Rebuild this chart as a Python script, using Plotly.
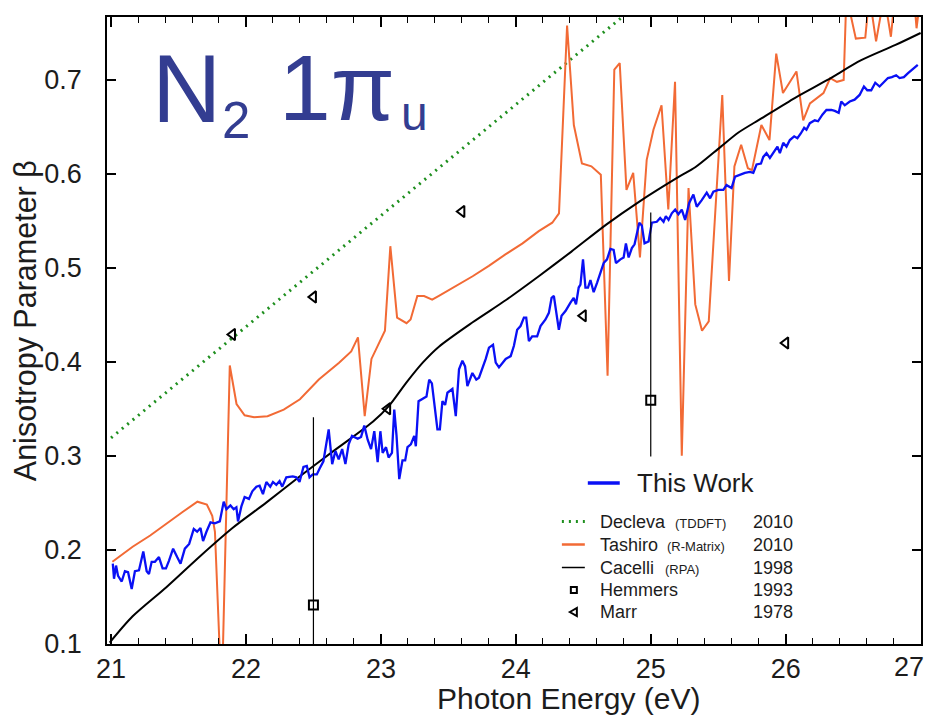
import plotly.graph_objects as go

# ---- N2 1πu photoelectron anisotropy parameter vs photon energy ----

# This work (measured)
this_work_energy = [
    21.013, 21.022, 21.037, 21.052, 21.079, 21.103, 21.126, 21.153, 21.177, 21.207,
    21.239, 21.264, 21.281, 21.301, 21.325, 21.355, 21.382, 21.407, 21.429, 21.460,
    21.490, 21.515, 21.547, 21.579, 21.613, 21.638, 21.663, 21.682, 21.707, 21.737,
    21.769, 21.806, 21.835, 21.855, 21.885, 21.909, 21.929, 21.941, 21.966, 21.990,
    22.022, 22.047, 22.077, 22.101, 22.126, 22.151, 22.180, 22.200, 22.225, 22.249,
    22.269, 22.299, 22.347, 22.373, 22.397, 22.426, 22.451, 22.471, 22.495, 22.525,
    22.545, 22.574, 22.613, 22.639, 22.663, 22.687, 22.713, 22.737, 22.761, 22.786,
    22.828, 22.853, 22.877, 22.902, 22.927, 22.951, 22.976, 22.996, 23.013, 23.038,
    23.057, 23.082, 23.099, 23.116, 23.136, 23.160, 23.180, 23.197, 23.222, 23.247,
    23.259, 23.279, 23.338, 23.358, 23.378, 23.419, 23.437, 23.456, 23.476, 23.493,
    23.530, 23.555, 23.579, 23.604, 23.624, 23.641, 23.678, 23.707, 23.727, 23.752,
    23.777, 23.801, 23.831, 23.851, 23.875, 23.925, 23.962, 23.986, 24.010, 24.035,
    24.060, 24.077, 24.097, 24.121, 24.158, 24.183, 24.220, 24.245, 24.265, 24.282,
    24.319, 24.339, 24.368, 24.405, 24.429, 24.446, 24.466, 24.479, 24.498, 24.516,
    24.535, 24.553, 24.577, 24.602, 24.627, 24.651, 24.676, 24.701, 24.725, 24.742,
    24.775, 24.799, 24.816, 24.836, 24.860, 24.880, 24.915, 24.934, 24.954, 24.984,
    25.008, 25.045, 25.070, 25.095, 25.112, 25.132, 25.156, 25.181, 25.205, 25.230,
    25.255, 25.285, 25.316, 25.341, 25.378, 25.415, 25.440, 25.464, 25.501, 25.538,
    25.562, 25.599, 25.625, 25.661, 25.698, 25.735, 25.760, 25.784, 25.817, 25.834,
    25.858, 25.883, 25.908, 25.939, 25.957, 25.982, 26.006, 26.031, 26.063, 26.087,
    26.112, 26.137, 26.154, 26.179, 26.216, 26.240, 26.272, 26.302, 26.339, 26.364,
    26.393, 26.412, 26.438, 26.475, 26.511, 26.548, 26.580, 26.605, 26.634, 26.664,
    26.696, 26.728, 26.758, 26.787, 26.819, 26.844, 26.876, 26.905, 26.942, 26.979,
]
this_work_beta = [
    0.185, 0.169, 0.183, 0.172, 0.166, 0.177, 0.176, 0.158, 0.177, 0.178,
    0.198, 0.177, 0.174, 0.187, 0.187, 0.192, 0.180, 0.180, 0.188, 0.201,
    0.192, 0.185, 0.201, 0.206, 0.222, 0.219, 0.223, 0.209, 0.219, 0.229,
    0.228, 0.230, 0.251, 0.243, 0.247, 0.243, 0.245, 0.230, 0.246, 0.256,
    0.254, 0.262, 0.267, 0.268, 0.259, 0.272, 0.267, 0.272, 0.269, 0.273,
    0.267, 0.277, 0.278, 0.277, 0.272, 0.288, 0.289, 0.277, 0.280, 0.280,
    0.286, 0.294, 0.328, 0.291, 0.305, 0.296, 0.307, 0.291, 0.312, 0.321,
    0.318, 0.320, 0.332, 0.317, 0.307, 0.326, 0.293, 0.326, 0.303, 0.309,
    0.298, 0.303, 0.349, 0.321, 0.275, 0.295, 0.295, 0.309, 0.312, 0.321,
    0.310, 0.358, 0.363, 0.381, 0.377, 0.328, 0.328, 0.358, 0.354, 0.367,
    0.371, 0.342, 0.392, 0.401, 0.395, 0.374, 0.388, 0.381, 0.383, 0.392,
    0.403, 0.415, 0.418, 0.399, 0.394, 0.403, 0.406, 0.417, 0.434, 0.438,
    0.447, 0.447, 0.422, 0.427, 0.427, 0.438, 0.445, 0.452, 0.468, 0.470,
    0.434, 0.449, 0.454, 0.463, 0.468, 0.461, 0.479, 0.482, 0.509, 0.479,
    0.479, 0.487, 0.474, 0.484, 0.495, 0.505, 0.509, 0.520, 0.519, 0.505,
    0.509, 0.511, 0.526, 0.511, 0.521, 0.525, 0.548, 0.545, 0.526, 0.528,
    0.548, 0.549, 0.553, 0.549, 0.555, 0.551, 0.558, 0.562, 0.557, 0.562,
    0.551, 0.569, 0.578, 0.565, 0.572, 0.580, 0.574, 0.581, 0.583, 0.583,
    0.588, 0.585, 0.597, 0.599, 0.601, 0.602, 0.601, 0.610, 0.611, 0.618,
    0.622, 0.617, 0.622, 0.629, 0.622, 0.633, 0.629, 0.636, 0.640, 0.638,
    0.643, 0.649, 0.647, 0.654, 0.657, 0.656, 0.663, 0.668, 0.668, 0.667,
    0.665, 0.677, 0.673, 0.677, 0.679, 0.684, 0.693, 0.689, 0.689, 0.697,
    0.693, 0.698, 0.702, 0.703, 0.705, 0.702, 0.703, 0.707, 0.711, 0.716,
]

# Decleva (TDDFT) 2010
decleva_energy = [21.0, 22.0, 23.0, 24.0, 25.0]
decleva_beta = [0.319, 0.437, 0.556, 0.674, 0.792]

# Tashiro (R-Matrix) 2010
tashiro_energy = [
    21.01, 21.16, 21.29, 21.41, 21.53, 21.64, 21.71, 21.75, 21.77, 21.82,
    21.88, 21.93, 21.99, 22.06, 22.16, 22.28, 22.40, 22.54, 22.69, 22.78,
    22.83, 22.88, 22.93, 23.03, 23.07, 23.12, 23.19, 23.22, 23.27, 23.32,
    23.38, 23.43, 23.55, 23.68, 23.80, 23.92, 24.05, 24.17, 24.27, 24.32,
    24.38, 24.43, 24.49, 24.56, 24.63, 24.68, 24.73, 24.77, 24.82, 24.87,
    24.92, 24.97, 25.02, 25.08, 25.13, 25.18, 25.23, 25.28, 25.33, 25.38,
    25.43, 25.53, 25.58, 25.62, 25.67, 25.72, 25.75, 25.82, 25.88, 25.93,
    25.98, 26.08, 26.13, 26.18, 26.28, 26.33, 26.38, 26.43, 26.45, 26.52,
    26.59, 26.62, 26.67, 26.73, 26.78, 26.81, 26.95, 26.97, 27.00,
]
tashiro_beta = [
    0.187, 0.203, 0.215, 0.228, 0.240, 0.251, 0.248, 0.236, 0.219, 0.040,
    0.396, 0.355, 0.343, 0.341, 0.342, 0.349, 0.360, 0.381, 0.399, 0.411,
    0.426, 0.342, 0.403, 0.433, 0.523, 0.447, 0.441, 0.445, 0.470, 0.470,
    0.466, 0.470, 0.480, 0.491, 0.502, 0.514, 0.526, 0.539, 0.548, 0.558,
    0.758, 0.652, 0.611, 0.608, 0.599, 0.385, 0.711, 0.718, 0.583, 0.601,
    0.511, 0.615, 0.647, 0.673, 0.562, 0.698, 0.300, 0.585, 0.461, 0.433,
    0.443, 0.684, 0.486, 0.608, 0.631, 0.606, 0.604, 0.652, 0.636, 0.728,
    0.686, 0.709, 0.657, 0.675, 0.686, 0.702, 0.698, 0.700, 0.790, 0.744,
    0.745, 0.790, 0.741, 0.790, 0.746, 0.790, 0.790, 0.755, 0.790,
]

# Cacelli (RPA) 1998
cacelli_energy = [
    20.99, 21.16, 21.41, 21.66, 21.90, 22.15, 22.40, 22.64, 22.94, 23.06,
    23.19, 23.31, 23.43, 23.68, 23.93, 24.17, 24.41, 24.67, 24.91, 25.21,
    25.33, 25.52, 25.65, 25.82, 26.07, 26.31, 26.56, 26.81, 27.00,
]
cacelli_beta = [
    0.101, 0.129, 0.160, 0.193, 0.223, 0.250, 0.278, 0.304, 0.336, 0.353,
    0.378, 0.399, 0.416, 0.442, 0.466, 0.491, 0.517, 0.546, 0.570, 0.597,
    0.607, 0.629, 0.644, 0.659, 0.681, 0.700, 0.721, 0.737, 0.750,
]

# Hemmers 1993 (with asymmetric error bars)
hemmers_energy = [22.5, 25.0]
hemmers_beta = [0.141, 0.359]
hemmers_err_plus = [0.20, 0.20]
hemmers_err_minus = [0.20, 0.06]

# Marr 1978
marr_energy = [21.9, 22.5, 23.05, 23.6, 24.5, 26.0]
marr_beta = [0.429, 0.469, 0.350, 0.560, 0.449, 0.420]

# Legend entries: name, method, year
legend_rows = [
    ("Decleva", "(TDDFT)", "2010"),
    ("Tashiro", "(R-Matrix)", "2010"),
    ("Cacelli", "(RPA)", "1998"),
    ("Hemmers", "", "1993"),
    ("Marr", "", "1978"),
]

# x tick labels (the last one is placed by hand so it stays inside the figure)
x_ticks = [21, 22, 23, 24, 25, 26, 27]
x_tick_text = ["21", "22", "23", "24", "25", "26", ""]

# ---- styling ----
BLUE = "#0a10f5"
ORANGE = "#f26a35"
GREEN = "#1e8f1e"
TITLE_BLUE = "#333d91"
TEXT = "#1c1c1c"
FONT = "Liberation Sans, Arial, Helvetica, sans-serif"

W, H = 929, 715
ML, MR, MT, MB = 107, 6, 17, 71
PW, PH = W - ML - MR, H - MT - MB


def px(xpix):
    """Horizontal pixel position -> paper fraction."""
    return (xpix - ML) / PW


def py(ypix):
    """Vertical pixel position (from top) -> paper fraction."""
    return (H - MB - ypix) / PH


def label(text, x, y, size, color=TEXT, anchor="left", angle=0, pad=1):
    return dict(xref="paper", yref="paper", x=px(x), y=py(y), xanchor=anchor,
                yanchor="middle", text=text, showarrow=False, textangle=angle,
                borderpad=pad, font=dict(family=FONT, size=size, color=color))


fig = go.Figure()

fig.add_trace(go.Scatter(
    x=decleva_energy, y=decleva_beta, mode="lines",
    line=dict(color=GREEN, width=3, dash="2px,5px"), hoverinfo="skip"))
fig.add_trace(go.Scatter(
    x=tashiro_energy, y=tashiro_beta, mode="lines",
    line=dict(color=ORANGE, width=2), hoverinfo="skip"))
fig.add_trace(go.Scatter(
    x=cacelli_energy, y=cacelli_beta, mode="lines",
    line=dict(color="black", width=2, shape="spline", smoothing=0.8), hoverinfo="skip"))
fig.add_trace(go.Scatter(
    x=this_work_energy, y=this_work_beta, mode="lines",
    line=dict(color=BLUE, width=2.3), hoverinfo="skip"))
fig.add_trace(go.Scatter(
    x=hemmers_energy, y=hemmers_beta, mode="markers",
    marker=dict(symbol="square-open", size=9, color="black", line=dict(width=2, color="black")),
    error_y=dict(type="data", symmetric=False, array=hemmers_err_plus,
                 arrayminus=hemmers_err_minus, width=0, thickness=1.2, color="black"),
    hoverinfo="skip"))
fig.add_trace(go.Scatter(
    x=marr_energy, y=marr_beta, mode="markers",
    marker=dict(symbol="triangle-left-open", size=10, color="black",
                line=dict(width=2, color="black")),
    hoverinfo="skip"))

annotations = []
shapes = []

# Panel title: N2 1πu
annotations.append(label("N", 151, 88.7, 96, TITLE_BLUE, pad=0))
annotations.append(label("2", 221, 120.3, 51, TITLE_BLUE, pad=0))
annotations.append(label("1π", 278, 87.8, 93, TITLE_BLUE, pad=0))
annotations.append(label("u", 401, 113.4, 48, TITLE_BLUE, pad=0))

# Axis titles
annotations.append(label("Photon Energy (eV)", 570, 698, 30, anchor="center", pad=0))
annotations.append(label("Anisotropy Parameter β", 25, 321, 30.5, anchor="center", angle=-90))

# Last x tick label, nudged left of the frame corner
annotations.append(label("27", 911, 667, 27, anchor="center", pad=0))

# Legend
shapes.append(dict(type="line", xref="paper", yref="paper",
                   x0=px(589), x1=px(621), y0=py(483), y1=py(483),
                   line=dict(color=BLUE, width=3.5)))
annotations.append(label("This Work", 636, 483, 26))

row_y = [521.5, 544.5, 567.5, 590, 612]
method_x = [674, 666, 664]
for i, (name, method, year) in enumerate(legend_rows):
    annotations.append(label(name, 599, row_y[i], 18))
    if method:
        annotations.append(label(method, method_x[i], row_y[i] + 1.5, 13))
    annotations.append(label(year, 753, row_y[i], 18))

shapes.append(dict(type="line", xref="paper", yref="paper", x0=px(563), x1=px(586),
                   y0=py(row_y[0]), y1=py(row_y[0]),
                   line=dict(color=GREEN, width=3, dash="2px,5px")))
shapes.append(dict(type="line", xref="paper", yref="paper", x0=px(563), x1=px(586),
                   y0=py(row_y[1]), y1=py(row_y[1]), line=dict(color=ORANGE, width=2.5)))
shapes.append(dict(type="line", xref="paper", yref="paper", x0=px(563), x1=px(586),
                   y0=py(row_y[2]), y1=py(row_y[2]), line=dict(color="black", width=1.5)))
shapes.append(dict(type="rect", xref="paper", yref="paper", xsizemode="pixel", ysizemode="pixel",
                   xanchor=px(575), yanchor=py(row_y[3]), x0=-3, x1=3, y0=-3, y1=3,
                   line=dict(color="black", width=2)))
shapes.append(dict(type="path", xref="paper", yref="paper", xsizemode="pixel", ysizemode="pixel",
                   xanchor=px(575), yanchor=py(row_y[4]), path="M -4 0 L 3 4 L 3 -4 Z",
                   line=dict(color="black", width=2)))

fig.update_layout(
    width=W, height=H,
    margin=dict(l=ML, r=MR, t=MT, b=MB),
    paper_bgcolor="white", plot_bgcolor="white",
    showlegend=False,
    annotations=annotations, shapes=shapes,
    font=dict(family=FONT, color=TEXT),
)
fig.update_xaxes(
    range=[20.97, 27.003], tickmode="array", tickvals=x_ticks, ticktext=x_tick_text,
    ticks="inside", ticklen=10, tickwidth=1.5, tickcolor="black",
    minor=dict(dtick=0.2, tick0=21, ticks="inside", ticklen=6, tickwidth=1, tickcolor="black"),
    showline=True, linecolor="black", linewidth=1.5, mirror="ticks",
    showgrid=False, zeroline=False,
    tickfont=dict(family=FONT, size=27, color=TEXT),
)
fig.update_yaxes(
    range=[0.0995, 0.767], tick0=0.1, dtick=0.1, tickformat=".1f",
    ticks="inside", ticklen=9, tickwidth=1.5, tickcolor="black",
    showline=True, linecolor="black", linewidth=1.5, mirror="ticks",
    showgrid=False, zeroline=False, ticklabelstandoff=18,
    tickfont=dict(family=FONT, size=27, color=TEXT),
)

fig.write_html("out.html")
